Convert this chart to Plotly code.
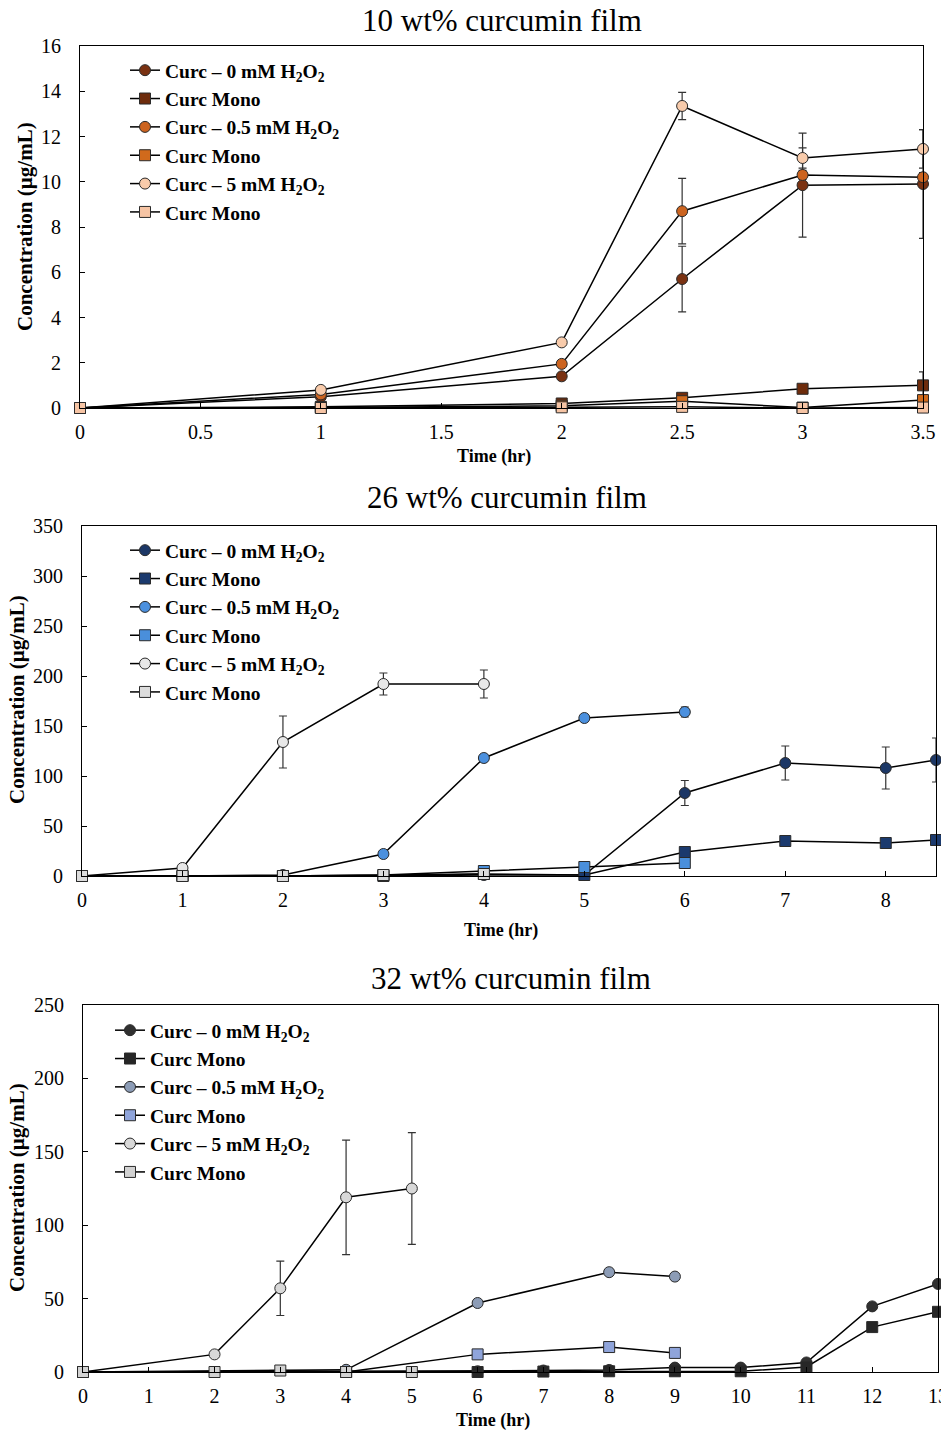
import plotly.graph_objects as go

W, H = 941, 1433
FONT = "Liberation Serif"

# ---------------- Panel 1: 10 wt% ----------------
p1_x = [0, 1, 2, 2.5, 3, 3.5]
p1_c0 = [0, 0.5, 1.4, 5.7, 9.85, 9.9]
p1_c0_err = [0, 0, 0.1, 1.45, 2.3, 2.4]
p1_m0 = [0, 0.05, 0.2, 0.45, 0.85, 1.0]
p1_c05 = [0, 0.6, 1.95, 8.7, 10.3, 10.2]
p1_c05_err = [0, 0, 0.1, 1.45, 0.2, 0.2]
p1_m05 = [0, 0.02, 0.1, 0.3, 0.02, 0.35]
p1_m05_err = [0, 0, 0, 0, 0, 1.25]
p1_c5 = [0, 0.8, 2.9, 13.35, 11.05, 11.45]
p1_c5_err = [0, 0, 0.05, 0.6, 0.45, 0.85]
p1_m5 = [0, 0.0, 0.03, 0.05, 0.0, 0.02]

# ---------------- Panel 2: 26 wt% ----------------
p2_c0_x = [0, 1, 2, 3, 4, 5, 6, 7, 8, 8.5]
p2_c0 = [0, 0, 0, 0, 1, 1, 83, 113, 108, 116]
p2_c0_err = [0, 0, 0, 0, 0, 0, 12.5, 17, 21, 22]
p2_m0 = [0, 0, 0, 0, 2, 1, 24, 35, 33, 36]
p2_m0_err = [0, 0, 0, 0, 0, 0, 2, 2, 4, 3]
p2_c05_x = [0, 1, 2, 3, 4, 5, 6]
p2_c05 = [0, 0, 1, 22, 118, 158, 164]
p2_c05_err = [0, 0, 0, 1, 3, 2, 5]
p2_m05 = [0, 0, 0, 1, 5, 9, 13]
p2_c5_x = [0, 1, 2, 3, 4]
p2_c5 = [0, 8, 134, 192, 192]
p2_c5_err = [0, 0, 26, 11, 14]
p2_m5 = [0, 0, 0, 1, 2]

# ---------------- Panel 3: 32 wt% ----------------
p3_c0_x = [0, 4, 6, 7, 8, 9, 10, 11, 12, 13]
p3_c0 = [0, 0.5, 0.5, 1, 1.4, 3, 3, 6.5, 44.7, 60]
p3_m0 = [0, 0, 0, 0.3, 0.5, 0.5, 0.5, 3.4, 30.6, 41]
p3_c05_x = [0, 4, 6, 8, 9]
p3_c05 = [0, 1.5, 47, 68, 65]
p3_m05 = [0, 0, 12, 17, 13]
p3_c5_x = [0, 2, 3, 4, 5]
p3_c5 = [0, 12, 57, 119, 125]
p3_c5_err = [0, 0, 18.5, 39, 38]
p3_m5 = [0, 0, 1, 0, 0]

titles = ["10 wt% curcumin film", "26 wt% curcumin film", "32 wt% curcumin film"]
names = ["Curc \u2013 0 mM H<sub>2</sub>O<sub>2</sub>", "Curc Mono",
         "Curc \u2013 0.5 mM H<sub>2</sub>O<sub>2</sub>", "Curc Mono",
         "Curc \u2013 5 mM H<sub>2</sub>O<sub>2</sub>", "Curc Mono"]

def px_x(v):
    return v / W

def px_y(v):
    return 1 - v / H

fig = go.Figure()

def add(xa, ya, leg, name, x, y, color, symbol, err=None):
    fig.add_trace(go.Scatter(
        x=x, y=y, xaxis=xa, yaxis=ya, legend=leg, name="<b>" + name + "</b>",
        mode="lines+markers", cliponaxis=False,
        line=dict(color="black", width=1.5),
        marker=dict(symbol=symbol, size=11, color=color, line=dict(color="#2a2a2a", width=1)),
        error_y=(dict(type="data", array=err, visible=True, color="#333333", thickness=1.2, width=4)
                 if err is not None else None),
    ))

# panel 1
cols1 = ["#7a3212", "#6e2c0c", "#cc6420", "#d06a1c", "#f8cbab", "#f6c4a4"]
add("x", "y", "legend", names[0], p1_x, p1_c0, cols1[0], "circle", p1_c0_err)
add("x", "y", "legend", names[1], p1_x, p1_m0, cols1[1], "square", None)
add("x", "y", "legend", names[2], p1_x, p1_c05, cols1[2], "circle", p1_c05_err)
add("x", "y", "legend", names[3], p1_x, p1_m05, cols1[3], "square", p1_m05_err)
add("x", "y", "legend", names[4], p1_x, p1_c5, cols1[4], "circle", p1_c5_err)
add("x", "y", "legend", names[5], p1_x, p1_m5, cols1[5], "square", None)

# panel 2
cols2 = ["#1c3766", "#1b3a6e", "#4b90de", "#4a8fdb", "#e8e8e8", "#dcdcdc"]
add("x2", "y2", "legend2", names[0], p2_c0_x, p2_c0, cols2[0], "circle", p2_c0_err)
add("x2", "y2", "legend2", names[1], p2_c0_x, p2_m0, cols2[1], "square", p2_m0_err)
add("x2", "y2", "legend2", names[2], p2_c05_x, p2_c05, cols2[2], "circle", p2_c05_err)
add("x2", "y2", "legend2", names[3], p2_c05_x, p2_m05, cols2[3], "square", None)
add("x2", "y2", "legend2", names[4], p2_c5_x, p2_c5, cols2[4], "circle", p2_c5_err)
add("x2", "y2", "legend2", names[5], p2_c5_x, p2_m5, cols2[5], "square", None)

# panel 3
cols3 = ["#303030", "#262626", "#8c9cb6", "#8fa4da", "#d8d8d8", "#d2d2d2"]
add("x3", "y3", "legend3", names[0], p3_c0_x, p3_c0, cols3[0], "circle", None)
add("x3", "y3", "legend3", names[1], p3_c0_x, p3_m0, cols3[1], "square", None)
add("x3", "y3", "legend3", names[2], p3_c05_x, p3_c05, cols3[2], "circle", None)
add("x3", "y3", "legend3", names[3], p3_c05_x, p3_m05, cols3[3], "square", None)
add("x3", "y3", "legend3", names[4], p3_c5_x, p3_c5, cols3[4], "circle", p3_c5_err)
add("x3", "y3", "legend3", names[5], p3_c5_x, p3_m5, cols3[5], "square", None)

tickfont = dict(family=FONT, size=20, color="black")
axcommon = dict(showline=True, linecolor="black", linewidth=1.2, mirror=True,
                ticks="inside", ticklen=5, tickcolor="black", showgrid=False,
                zeroline=False, tickfont=tickfont, ticklabeloverflow="allow")

panels = [
    dict(xd=(80, 923), yd=(46, 408), xr=[0, 3.5], xdt=0.5, yr=[0, 16], ydt=2),
    dict(xd=(82, 936), yd=(526, 876), xr=[0, 8.5], xdt=1, yr=[0, 350], ydt=50),
    dict(xd=(83, 938), yd=(1005, 1372), xr=[0, 13], xdt=1, yr=[0, 250], ydt=50),
]

layout = dict(width=W, height=H, margin=dict(l=0, r=0, t=0, b=0, autoexpand=False),
              paper_bgcolor="white", plot_bgcolor="white", showlegend=True,
              font=dict(family=FONT, color="black"))

for i, p in enumerate(panels):
    sfx = "" if i == 0 else str(i + 1)
    layout["xaxis" + sfx] = dict(domain=[px_x(p["xd"][0]), px_x(p["xd"][1])],
                                 range=p["xr"], dtick=p["xdt"], tick0=0,
                                 anchor="y" + sfx, ticklabelstandoff=6, **axcommon)
    layout["yaxis" + sfx] = dict(domain=[px_y(p["yd"][1]), px_y(p["yd"][0])],
                                 range=p["yr"], dtick=p["ydt"], tick0=0,
                                 anchor="x" + sfx, ticklabelstandoff=14, **axcommon)

legpos = [(125, 51), (125, 531), (110, 1011)]
for i, (lx, ly) in enumerate(legpos):
    key = "legend" if i == 0 else "legend" + str(i + 1)
    layout[key] = dict(x=px_x(lx), y=px_y(ly), xanchor="left", yanchor="top",
                       bgcolor="rgba(0,0,0,0)", borderwidth=0,
                       font=dict(family=FONT, size=19.5, color="black"),
                       traceorder="normal", tracegroupgap=0, itemwidth=30)

fig.update_layout(**layout)

ann = []
title_pos = [(502, 20), (507, 497), (511, 978)]
for t, (tx, ty) in zip(titles, title_pos):
    ann.append(dict(text=t, x=px_x(tx), y=px_y(ty), xref="paper", yref="paper",
                    showarrow=False, font=dict(family=FONT, size=31, color="black"),
                    xanchor="center", yanchor="middle"))
xt_pos = [(494, 457), (501, 930), (493, 1420)]
for (tx, ty) in xt_pos:
    ann.append(dict(text="<b>Time (hr)</b>", x=px_x(tx), y=px_y(ty), xref="paper", yref="paper",
                    showarrow=False, font=dict(family=FONT, size=18, color="black"),
                    xanchor="center", yanchor="middle"))
yt_pos = [(25, 227), (17, 700), (17, 1188)]
for (tx, ty) in yt_pos:
    ann.append(dict(text="<b>Concentration (\u00b5g/mL)</b>", x=px_x(tx), y=px_y(ty),
                    xref="paper", yref="paper", textangle=-90,
                    showarrow=False, font=dict(family=FONT, size=21, color="black"),
                    xanchor="center", yanchor="middle"))
fig.update_layout(annotations=ann)

fig.write_html("out.html")
